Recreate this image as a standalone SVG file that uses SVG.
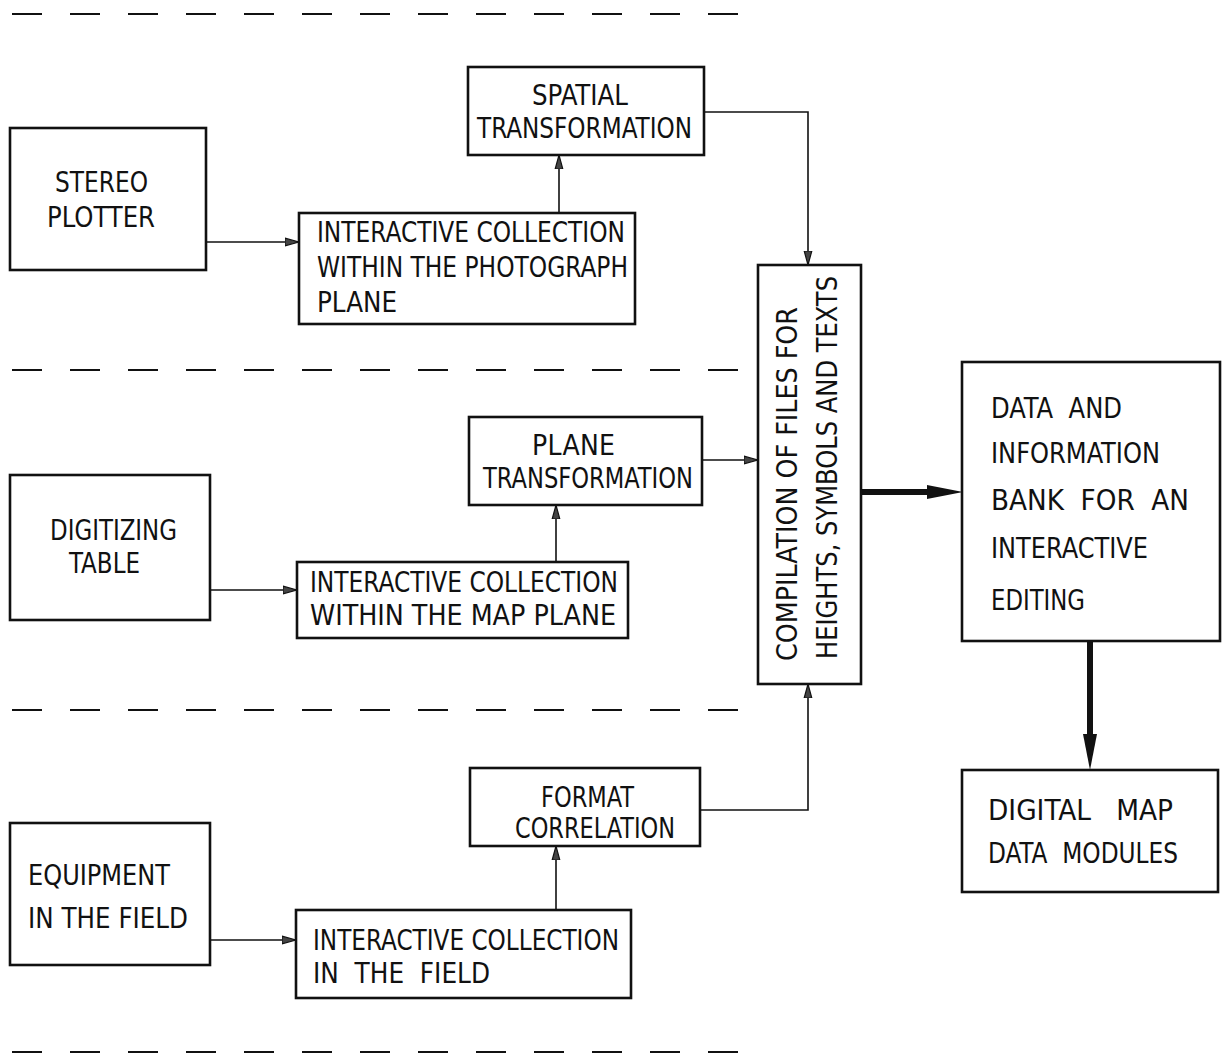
<svg xmlns="http://www.w3.org/2000/svg" width="1223" height="1055" viewBox="0 0 1223 1055">
<style>
  .box { fill: #fff; stroke: #111; stroke-width: 2.6; }
  .t { font-family: "Liberation Sans Narrow", "DejaVu Sans Condensed", "Liberation Sans", sans-serif; font-size: 28px; fill: #111; white-space: pre; }
  .c { stroke: #111; stroke-width: 1.6; fill: none; }
  .thick { stroke: #111; stroke-width: 6; fill: none; }
  .dash { stroke: #111; stroke-width: 2.2; stroke-dasharray: 30 28; fill: none; }
</style>
<defs>
  <marker id="arr" markerUnits="userSpaceOnUse" markerWidth="16" markerHeight="10" refX="14" refY="5" orient="auto">
    <path d="M0,1.2 L14,5 L0,8.8 Z" fill="#444" stroke="#111" stroke-width="1.2"/>
  </marker>
  <marker id="big" markerUnits="userSpaceOnUse" markerWidth="38" markerHeight="18" refX="0" refY="9" orient="auto">
    <path d="M0,2 L36,9 L0,16 Z" fill="#111"/>
  </marker>
</defs>
<rect width="1223" height="1055" fill="#fff"/>

<g id="separators">
  <line class="dash" x1="12" y1="14" x2="740" y2="14"/>
  <line class="dash" x1="12" y1="370" x2="740" y2="370"/>
  <line class="dash" x1="12" y1="710" x2="740" y2="710"/>
  <line class="dash" x1="12" y1="1052" x2="740" y2="1052"/>
</g>

<g id="connectors">
  <line class="c" x1="206" y1="242" x2="299" y2="242" marker-end="url(#arr)"/>
  <line class="c" x1="559" y1="213" x2="559" y2="155" marker-end="url(#arr)"/>
  <polyline class="c" points="704,112 808,112 808,265" marker-end="url(#arr)"/>
  <line class="c" x1="210" y1="590" x2="297" y2="590" marker-end="url(#arr)"/>
  <line class="c" x1="556" y1="562" x2="556" y2="505" marker-end="url(#arr)"/>
  <line class="c" x1="702" y1="460" x2="758" y2="460" marker-end="url(#arr)"/>
  <line class="c" x1="210" y1="940" x2="296" y2="940" marker-end="url(#arr)"/>
  <line class="c" x1="556" y1="910" x2="556" y2="846" marker-end="url(#arr)"/>
  <polyline class="c" points="700,810 808,810 808,684" marker-end="url(#arr)"/>
  <line class="thick" x1="861" y1="492" x2="927" y2="492" marker-end="url(#big)"/>
  <line class="thick" x1="1090" y1="641" x2="1090" y2="734" marker-end="url(#big)"/>
</g>

<g id="stereo-plotter">
  <rect class="box" x="10" y="128" width="196" height="142"/>
  <text class="t" x="55" y="192" textLength="93" lengthAdjust="spacingAndGlyphs">STEREO</text>
  <text class="t" x="47" y="227" textLength="108" lengthAdjust="spacingAndGlyphs">PLOTTER</text>
</g>

<g id="spatial-transformation">
  <rect class="box" x="468" y="67" width="236" height="88"/>
  <text class="t" x="532" y="105" textLength="96" lengthAdjust="spacingAndGlyphs">SPATIAL</text>
  <text class="t" x="477" y="138" textLength="215" lengthAdjust="spacingAndGlyphs">TRANSFORMATION</text>
</g>

<g id="collection-photograph">
  <rect class="box" x="299" y="213" width="336" height="111"/>
  <text class="t" x="317" y="242" textLength="308" lengthAdjust="spacingAndGlyphs">INTERACTIVE COLLECTION</text>
  <text class="t" x="317" y="277" textLength="311" lengthAdjust="spacingAndGlyphs">WITHIN THE PHOTOGRAPH</text>
  <text class="t" x="317" y="312" textLength="80" lengthAdjust="spacingAndGlyphs">PLANE</text>
</g>

<g id="digitizing-table">
  <rect class="box" x="10" y="475" width="200" height="145"/>
  <text class="t" x="50" y="540" textLength="127" lengthAdjust="spacingAndGlyphs">DIGITIZING</text>
  <text class="t" x="69" y="573" textLength="71" lengthAdjust="spacingAndGlyphs">TABLE</text>
</g>

<g id="plane-transformation">
  <rect class="box" x="469" y="417" width="233" height="88"/>
  <text class="t" x="532" y="455" textLength="83" lengthAdjust="spacing">PLANE</text>
  <text class="t" x="483" y="488" textLength="210" lengthAdjust="spacingAndGlyphs">TRANSFORMATION</text>
</g>

<g id="collection-map">
  <rect class="box" x="297" y="562" width="331" height="76"/>
  <text class="t" x="310" y="592" textLength="308" lengthAdjust="spacingAndGlyphs">INTERACTIVE COLLECTION</text>
  <text class="t" x="310" y="625" textLength="306" lengthAdjust="spacingAndGlyphs">WITHIN THE MAP PLANE</text>
</g>

<g id="equipment-field">
  <rect class="box" x="10" y="823" width="200" height="142"/>
  <text class="t" x="28" y="885" textLength="142" lengthAdjust="spacingAndGlyphs">EQUIPMENT</text>
  <text class="t" x="28" y="928" textLength="160" lengthAdjust="spacingAndGlyphs">IN THE FIELD</text>
</g>

<g id="format-correlation">
  <rect class="box" x="470" y="768" width="230" height="78"/>
  <text class="t" x="541" y="807" textLength="93" lengthAdjust="spacingAndGlyphs">FORMAT</text>
  <text class="t" x="515" y="838" textLength="160" lengthAdjust="spacingAndGlyphs">CORRELATION</text>
</g>

<g id="collection-field">
  <rect class="box" x="296" y="910" width="335" height="88"/>
  <text class="t" x="313" y="950" textLength="306" lengthAdjust="spacingAndGlyphs">INTERACTIVE COLLECTION</text>
  <text class="t" x="313" y="983" textLength="177" lengthAdjust="spacingAndGlyphs" xml:space="preserve">IN  THE  FIELD</text>
</g>

<g id="compilation">
  <rect class="box" x="758" y="265" width="103" height="419"/>
  <text class="t" transform="translate(797,661) rotate(-90)" textLength="354" lengthAdjust="spacingAndGlyphs">COMPILATION OF FILES FOR</text>
  <text class="t" transform="translate(837,659) rotate(-90)" textLength="383" lengthAdjust="spacingAndGlyphs">HEIGHTS, SYMBOLS AND TEXTS</text>
</g>

<g id="data-bank">
  <rect class="box" x="962" y="362" width="258" height="279"/>
  <text class="t" x="991" y="418" textLength="131" lengthAdjust="spacingAndGlyphs" xml:space="preserve">DATA  AND</text>
  <text class="t" x="991" y="463" textLength="169" lengthAdjust="spacingAndGlyphs">INFORMATION</text>
  <text class="t" x="991" y="510" textLength="198" lengthAdjust="spacingAndGlyphs" xml:space="preserve">BANK  FOR  AN</text>
  <text class="t" x="991" y="558" textLength="157" lengthAdjust="spacingAndGlyphs">INTERACTIVE</text>
  <text class="t" x="991" y="610" textLength="94" lengthAdjust="spacingAndGlyphs">EDITING</text>
</g>

<g id="digital-map">
  <rect class="box" x="962" y="770" width="256" height="122"/>
  <text class="t" x="988" y="820" textLength="185" lengthAdjust="spacingAndGlyphs" xml:space="preserve">DIGITAL   MAP</text>
  <text class="t" x="988" y="863" textLength="190" lengthAdjust="spacingAndGlyphs" xml:space="preserve">DATA  MODULES</text>
</g>
</svg>
